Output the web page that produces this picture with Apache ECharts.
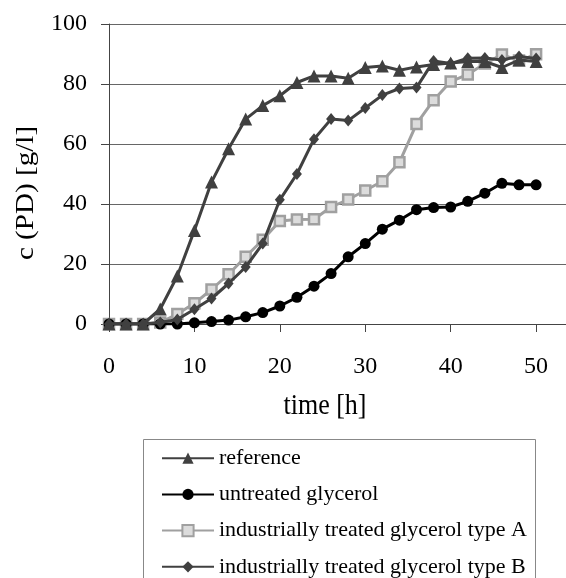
<!DOCTYPE html>
<html>
<head>
<meta charset="utf-8">
<script src="https://cdn.jsdelivr.net/npm/echarts@6/dist/echarts.min.js"></script>
<style>html,body{margin:0;padding:0;background:#fff}#c{width:566px;height:578px}</style>
</head>
<body>
<div id="c"></div>
<script>
var time = [0,2,4,6,8,10,12,14,16,18,20,22,24,26,28,30,32,34,36,38,40,42,44,46,48,50];
var reference = [0,0,0,5,16,31.2,47.3,58.4,68.3,72.8,76.1,80.5,82.7,82.7,81.9,85.5,86.0,84.6,85.7,86.5,87,87.5,87.5,85.5,88,87.5];
var untreated = [0,0,0,0,0,0.4,0.8,1.3,2.4,3.8,6.0,8.9,12.6,16.8,22.4,26.8,31.6,34.6,38.1,38.8,39.0,40.9,43.6,46.9,46.4,46.4];
var typeA = [0,0,0,0.5,3.3,6.9,11.5,16.6,22.4,28.1,34.3,34.8,34.9,39.0,41.5,44.5,47.6,53.9,66.7,74.6,80.8,83.2,86.8,89.8,87.8,89.9];
var typeB = [0,0,0,0.5,1.5,4.9,8.5,13.5,19.0,26.8,41.4,50.0,61.6,68.3,67.8,72.0,76.3,78.5,78.8,87.7,86.8,88.6,88.7,88.0,89.2,88.5];
var seriesNames = ['reference','untreated glycerol','industrially treated glycerol type A','industrially treated glycerol type B'];
var yTicks = [0,20,40,60,80,100];
var xTicks = [0,10,20,30,40,50];

function pairs(v){ return time.map(function(t,i){ return [t, v[i]]; }); }
var font = 'Liberation Serif';
var chart = echarts.init(document.getElementById('c'), null, {renderer:'canvas'});
chart.setOption({
  animation:false,
  backgroundColor:'#fff',
  textStyle:{fontFamily:font},
  grid:{left:109, top:24, right:0, height:300},
  xAxis:{
    type:'value', min:0, max:53.5, interval:10,
    axisLine:{show:true, onZero:false, lineStyle:{color:'#444', width:1}},
    axisTick:{show:true, length:8, lineStyle:{color:'#444'}},
    axisLabel:{fontFamily:font, fontSize:24, color:'#000', margin:31, showMaxLabel:false,
      formatter:function(v){ return xTicks.indexOf(v)>=0 ? String(v) : ''; }},
    splitLine:{show:false}
  },
  yAxis:{
    type:'value', min:0, max:100, interval:20,
    axisLine:{show:true, lineStyle:{color:'#444', width:1}},
    axisTick:{show:true, length:8, lineStyle:{color:'#444'}},
    axisLabel:{fontFamily:font, fontSize:24, color:'#000', margin:22,
      formatter:function(v){ return yTicks.indexOf(v)>=0 ? String(v) : ''; }},
    splitLine:{show:true, lineStyle:{color:'#666', width:1}}
  },
  legend:{
    orient:'vertical', left:161, top:447.2, padding:0, itemWidth:52, itemHeight:14, itemGap:14.2,
    textStyle:{fontFamily:font, fontSize:22, color:'#000'},
    data:seriesNames
  },
  graphic:[
    {type:'rect', shape:{x:143.5, y:439.5, width:392, height:200}, style:{fill:'none', stroke:'#888', lineWidth:1}, silent:true},
    {type:'text', x:325, y:406, scaleY:1.12, style:{text:'time [h]', font:'26px "Liberation Serif"', fill:'#000', textAlign:'center', textVerticalAlign:'middle'}},
    {type:'text', x:26, y:193, rotation:Math.PI/2, scaleX:1.12, style:{text:'c (PD) [g/l]', font:'26px "Liberation Serif"', fill:'#000', textAlign:'center', textVerticalAlign:'middle'}}
  ],
  series:[
    {name:seriesNames[0], type:'line', data:pairs(reference), symbol:'triangle', symbolSize:13,
      lineStyle:{color:'#404040', width:3}, itemStyle:{color:'#404040'}, z:4},
    {name:seriesNames[1], type:'line', data:pairs(untreated), symbol:'circle', symbolSize:11,
      lineStyle:{color:'#000', width:3}, itemStyle:{color:'#000'}, z:3},
    {name:seriesNames[2], type:'line', data:pairs(typeA), symbol:'rect', symbolSize:10,
      lineStyle:{color:'#a0a0a0', width:3}, itemStyle:{color:'#dcdcdc', borderColor:'#a0a0a0', borderWidth:2.5}, z:2},
    {name:seriesNames[3], type:'line', data:pairs(typeB), symbol:'diamond', symbolSize:[10,12],
      lineStyle:{color:'#404040', width:3}, itemStyle:{color:'#404040'}, z:5}
  ]
});
</script>
</body>
</html>
